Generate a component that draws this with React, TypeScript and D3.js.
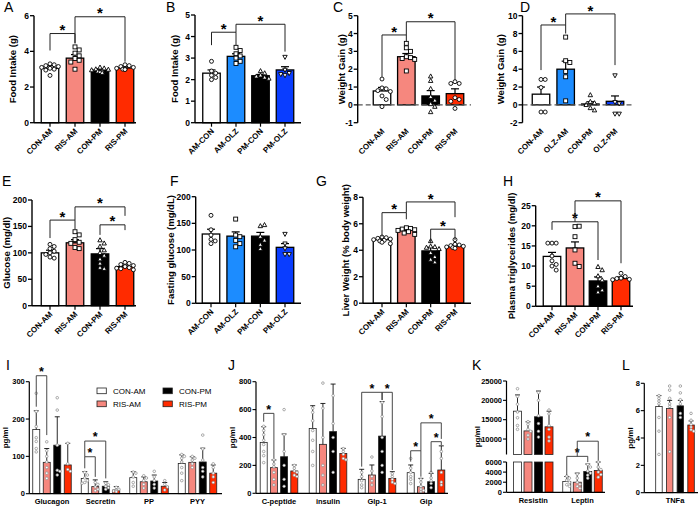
import React from "react";
import * as d3 from "d3";

const FONT = "'Liberation Sans', Arial, Helvetica, sans-serif";

// ---------------- colours ----------------
const WHITE = "#ffffff";
const SALMON = "#F6877E";
const BLACK = "#000000";
const RED = "#FF2B00";
const LBLUE = "#1C8CFF";
const DBLUE = "#0A3DFF";

// ---------------- categories ----------------
const catsRIS = ["CON-AM", "RIS-AM", "CON-PM", "RIS-PM"];
const catsB = ["AM-CON", "AM-OLZ", "PM-CON", "PM-OLZ"];
const catsD = ["CON-AM", "OLZ-AM", "CON-PM", "OLZ-PM"];

// ---------------- A: Food intake (RIS) ----------------
const aTicks = [0, 2, 4, 6];
const aMeans = [3.05, 3.62, 2.95, 3.07];
const aErrs = [3.2, 3.82, 3.02, 3.13];
const aPts = [
  [3.3, 3.25, 3.2, 3.15, 3.1, 3.05, 3.0, 2.95, 2.65],
  [4.25, 4.08, 3.9, 3.75, 3.6, 3.5, 3.4, 3.0],
  [3.1, 3.05, 3.0, 2.98, 2.95, 2.9, 2.88, 2.85, 2.8],
  [3.25, 3.2, 3.15, 3.1, 3.05, 3.0, 3.0, 2.98],
];
const aBrackets = [
  [0, 1, 5.0, 4.05, 4.45],
  [1, 3, 5.94, 4.45, 3.42],
];

// ---------------- B: Food intake (OLZ) ----------------
const bTicks = [0, 1, 2, 3, 4, 5];
const bMeans = [2.3, 3.08, 2.18, 2.45];
const bErrs = [2.45, 3.2, 2.24, 2.6];
const bPts = [
  [2.85, 2.4, 2.3, 2.2, 2.1, 2.0],
  [3.5, 3.35, 3.2, 3.1, 3.0, 2.85, 2.75],
  [2.4, 2.3, 2.2, 2.15, 2.1, 2.05],
  [3.05, 2.45, 2.3, 2.2, 2.25],
];
const bBrackets = [
  [0, 1, 4.2, 3.6, 3.6],
  [1, 3, 4.57, 4.2, 3.3],
];

// ---------------- C: Weight gain (RIS) ----------------
const cTicks = [-1, 0, 1, 2, 3, 4, 5];
const cMeans = [0.78, 2.7, 0.5, 0.63];
const cErrs = [0.98, 2.88, 0.8, 0.9];
const cPts = [
  [1.45, 0.95, 0.9, 0.8, 0.75, 0.5, 0.3, -0.1],
  [3.45, 3.2, 3.0, 2.7, 2.65, 2.6, 2.55, 1.9],
  [1.6, 1.35, 0.9, 0.45, 0.25, 0.05, -0.1, -0.4],
  [1.3, 1.2, 1.2, 0.4, 0.3, 0.2, -0.2],
];
const cBrackets = [
  [0, 1, 3.92, 1.57, 3.54],
  [1, 3, 4.66, 3.92, 1.39],
];

// ---------------- D: Weight gain (OLZ) ----------------
const dTicks = [-2, 0, 2, 4, 6, 8, 10];
const dMeans = [1.2, 4.0, 0.1, 0.4];
const dErrs = [2.0, 4.9, 0.35, 1.0];
const dPts = [
  [2.85, 2.85, 1.95, -0.8, -0.8],
  [7.6, 4.95, 4.75, 3.75, 3.15, 0.45],
  [1.1, 0.35, 0.2, 0.0, -0.35, -0.6],
  [3.3, 0.3, 0.15, -1.0, -1.0],
];
const dBrackets = [
  [0, 1, 8.96, 3.9, 8.0],
  [1, 3, 10.2, 8.96, 4.46],
];

// ---------------- E: Glucose ----------------
const eTicks = [0, 50, 100, 150, 200];
const eMeans = [100, 119, 98, 74];
const eErrs = [105, 125, 108, 77];
const ePts = [
  [116, 112, 108, 103, 100, 97, 92, 90],
  [140, 134, 125, 120, 118, 110, 108],
  [124, 118, 112, 105, 100, 95, 88, 80, 72, 70],
  [82, 80, 78, 76, 74, 72, 71, 70, 68],
];
const eBrackets = [
  [0, 1, 162, 128, 145],
  [1, 3, 187, 162, 170],
  [2, 3, 153, 134, 143],
];

// ---------------- F: Fasting glucose ----------------
const fTicks = [0, 50, 100, 150, 200];
const fMeans = [130, 126, 126, 105];
const fErrs = [139, 134, 133, 112];
const fPts = [
  [165, 138, 128, 120, 117, 112],
  [158, 128, 125, 118, 112, 106],
  [145, 147, 125, 118, 110, 102],
  [130, 112, 103, 92, 92],
];

// ---------------- G: Liver weight ----------------
const gTicks = [0, 2, 4, 6, 8];
const gMeans = [4.8, 5.5, 3.95, 4.3];
const gErrs = [4.93, 5.62, 4.22, 4.42];
const gPts = [
  [5.0, 4.95, 4.9, 4.85, 4.8, 4.75, 4.7, 4.6, 4.5],
  [5.7, 5.65, 5.6, 5.55, 5.5, 5.4, 5.3, 5.2],
  [4.7, 4.3, 4.25, 4.2, 4.1, 3.8, 3.5, 3.3, 3.1],
  [4.8, 4.45, 4.4, 4.35, 4.3, 4.25, 4.2, 4.15],
];
const gBrackets = [
  [0, 1, 6.84, 5.03, 6.34],
  [1, 3, 7.65, 6.84, 6.5],
  [2, 3, 5.59, 4.53, 4.78],
];

// ---------------- H: Plasma triglycerides ----------------
const hTicks = [0, 5, 10, 15, 20, 25];
const hMeans = [12.4, 14.5, 6.3, 6.9];
const hErrs = [13.4, 16.0, 7.3, 7.3];
const hPts = [
  [15.7, 15.7, 15.7, 12.5, 11.3, 10.4, 10.0, 9.0],
  [19.8, 19.9, 17.3, 14.0, 10.7, 9.9],
  [9.8, 9.0, 7.5, 6.5, 5.0, 4.0, 3.5],
  [8.2, 7.4, 7.0, 6.9, 6.7, 6.6],
];
const hBrackets = [
  [0, 2, 21.0, 19.0, 11.5],
  [1, 3, 26.2, 21.0, 10.7],
];

// ---------------- Row 3 ----------------
const seriesNames = ["CON-AM", "RIS-AM", "CON-PM", "RIS-PM"];

const iGroups = ["Glucagon", "Secretin", "PP", "PYY"];
const iTicks = [0, 100, 200, 300];
const iMeans = [
  [172, 41, 43, 81],
  [84, 19, 32, 84],
  [130, 20, 34, 85],
  [77, 10, 20, 55],
];
const iErrs = [
  [222, 59, 59, 104],
  [121, 37, 45, 99],
  [206, 32, 50, 122],
  [135, 19, 30, 77],
];
const iPts = [
  [[269, 220, 180, 150, 140, 121, 112], [57, 50, 42, 35, 30, 28], [58, 55, 45, 30, 20], [105, 100, 95, 85, 70, 55, 35]],
  [[139, 115, 100, 85, 70, 55, 41], [30, 25, 18, 12, 8], [48, 42, 35, 25, 15], [100, 95, 90, 80, 70]],
  [[257, 224, 130, 63, 60, 50], [28, 24, 20, 16, 12], [60, 45, 35, 25, 15], [157, 120, 90, 70, 60, 45]],
  [[135, 80, 65, 60], [17, 12, 9, 7, 5], [35, 25, 18, 10], [80, 70, 55, 45, 30]],
];
const iBrackets = [
  [0, 0, 1, 316, 233, 157],
  [1, 0, 1, 99, 68, 45],
  [1, 0, 2, 141, 99, 41],
];

const jGroups = ["C-peptide", "insulin", "Glp-1", "Gip"];
const jTicks = [0, 200, 400, 600, 800];
const jMeans = [
  [365, 465, 100, 148],
  [184, 351, 131, 47],
  [262, 442, 410, 83],
  [160, 286, 107, 167],
];
const jErrs = [
  [477, 628, 172, 203],
  [239, 644, 203, 107],
  [425, 783, 657, 143],
  [203, 322, 155, 340],
];
const jPts = [
  [[480, 450, 420, 380, 350, 300, 270, 220], [610, 580, 520, 450, 380, 300, 200], [150, 120, 90, 60, 40], [250, 180, 150, 120, 100, 70]],
  [[240, 210, 190, 150, 100, 60], [790, 610, 400, 200, 130, 60], [260, 160, 120, 90, 60], [100, 80, 50, 30, 20, 10]],
  [[600, 420, 300, 200, 100, 50], [700, 500, 400, 300, 150], [650, 550, 400, 300, 200, 150], [150, 110, 90, 70, 40]],
  [[200, 180, 160, 150, 130, 120], [320, 300, 280, 250, 240], [140, 120, 100, 80, 70], [300, 250, 150, 80, 60]],
];
const jBrackets = [
  [0, 0, 1, 573, 513, 251],
  [2, 0, 2, 724, 191, 669],
  [2, 2, 3, 724, 669, 167],
  [3, 0, 1, 305, 227, 119],
  [3, 1, 3, 505, 305, 390],
  [3, 2, 3, 370, 150, 345],
];

const kGroups = ["Resistin", "Leptin"];
const kTicksLow = [0, 2000, 4000, 6000];
const kTicksHigh = [10000, 15000, 20000, 25000];
const kMeans = [
  [17200, 2120],
  [12100, 2000],
  [15750, 4120],
  [13160, 4320],
];
const kErrs = [
  [21400, 3120],
  [14450, 3800],
  [22400, 5600],
  [17200, 6000],
];
const kPts = [
  [[23000, 21000, 19000, 17000, 15500, 13500, 12500], [3200, 2800, 2400, 2000, 1500, 1200]],
  [[14500, 13800, 12500, 12000, 11000, 10000], [3600, 2800, 2000, 1600, 1200, 800]],
  [[22000, 20000, 16000, 14000, 12000, 10500], [5500, 5000, 4200, 3800, 3400, 2800]],
  [[17500, 16500, 13500, 12500, 10500, 9500], [6000, 5000, 4500, 4000, 3500, 3000]],
];
const kBrackets = [
  [1, 0, 2, 7120, 3400, 6000],
  [1, 1, 3, 10120, 7120, 6300],
];

const lGroups = ["TNFa"];
const lTicks = [0, 2, 4, 6, 8];
const lMeans = [[6.3], [6.15], [6.35], [4.95]];
const lErrs = [[7.1], [6.75], [6.75], [5.25]];
const lPts = [
  [[7.1, 6.9, 6.7, 6.5, 5.5, 4.5, 2.8]],
  [[7.8, 7.5, 6.9, 6.5, 6.3, 5.5, 3.0]],
  [[7.8, 7.3, 6.8, 6.5, 5.8, 5.5]],
  [[5.8, 5.3, 5.0, 4.8, 4.6, 4.5]],
];

// ---------------- helpers ----------------
type Shape = "circle" | "square" | "tri" | "triDown";

function swarm(ys: number[], size: number, maxHalf: number): number[] {
  const placed: [number, number][] = [];
  return ys.map((y, idx) => {
    let best = ((idx % 3) - 1) * size * 0.5;
    for (let k = 0; k < 40; k++) {
      const off = k === 0 ? 0 : (k % 2 ? 1 : -1) * Math.ceil(k / 2) * size * 0.95;
      if (Math.abs(off) > maxHalf) break;
      if (placed.every(([px, py]) => Math.hypot(px - off, py - y) >= size * 0.95)) {
        best = off;
        break;
      }
    }
    placed.push([best, y]);
    return best;
  });
}

function Marker(props: { shape: Shape; x: number; y: number; s: number; fill: string; stroke: string; sw: number }) {
  const { shape, x, y, s, fill, stroke, sw } = props;
  const h = s / 2;
  if (shape === "square")
    return <rect x={x - h * 0.9} y={y - h * 0.9} width={s * 0.9} height={s * 0.9} fill={fill} stroke={stroke} strokeWidth={sw} />;
  if (shape === "tri")
    return <path d={`M${x},${y - h * 1.1}L${x + h},${y + h * 0.75}L${x - h},${y + h * 0.75}Z`} fill={fill} stroke={stroke} strokeWidth={sw} />;
  if (shape === "triDown")
    return <path d={`M${x},${y + h * 1.1}L${x + h},${y - h * 0.75}L${x - h},${y - h * 0.75}Z`} fill={fill} stroke={stroke} strokeWidth={sw} />;
  return <circle cx={x} cy={y} r={h * 0.9} fill={fill} stroke={stroke} strokeWidth={sw} />;
}

interface SmallCfg {
  cats: string[];
  means: number[];
  errs: number[];
  pts: number[][];
  colors: string[];
  shapes: Shape[];
  domain: [number, number];
  ticks: number[];
  brackets: number[][];
  axisX: number;
  xEnd: number;
  c0: number;
  c1: number;
  yTop: number;
  yBot: number;
  title: string;
  titleX: number;
  letter: string;
  letterX: number;
  letterY: number;
  zero?: boolean;
}

function SmallPanel({ cfg }: { cfg: SmallCfg }) {
  const y = d3.scaleLinear().domain(cfg.domain).range([cfg.yBot, cfg.yTop]);
  const x = d3.scalePoint<string>().domain(cfg.cats).range([cfg.c0, cfg.c1]);
  const barW = 17.5;
  const base = y(Math.max(0, cfg.domain[0]));
  const midY = (cfg.yBot + cfg.yTop) / 2;
  return (
    <g>
      <text x={cfg.letterX} y={cfg.letterY} fontSize={14}>{cfg.letter}</text>
      <text transform={`translate(${cfg.titleX + 2},${midY}) rotate(-90)`} textAnchor="middle" fontSize={9.5} fontWeight="bold">
        {cfg.title}
      </text>
      {cfg.cats.map((c, i) => {
        const cx = x(c)!;
        const ym = y(cfg.means[i]);
        return (
          <rect key={"b" + i} x={cx - barW / 2} y={Math.min(ym, base)} width={barW} height={Math.abs(base - ym)}
            fill={cfg.colors[i]} stroke="#000" strokeWidth={1.3} />
        );
      })}
      {cfg.zero && (
        <line x1={cfg.axisX} x2={cfg.xEnd} y1={y(0)} y2={y(0)} stroke="#555" strokeWidth={1.3} strokeDasharray="5,3" />
      )}
      {cfg.cats.map((c, i) => {
        const cx = x(c)!;
        return (
          <g key={"e" + i}>
            <line x1={cx} x2={cx} y1={y(cfg.means[i])} y2={y(cfg.errs[i])} stroke="#000" strokeWidth={1.2} />
            <line x1={cx - 4} x2={cx + 4} y1={y(cfg.errs[i])} y2={y(cfg.errs[i])} stroke="#000" strokeWidth={1.2} />
          </g>
        );
      })}
      {cfg.cats.map((c, i) => {
        const cx = x(c)!;
        const ys = cfg.pts[i].map((v) => y(v));
        const offs = swarm(ys, 4.4, 9);
        return (
          <g key={"p" + i}>
            {ys.map((py, k) => (
              <Marker key={k} shape={cfg.shapes[i]} x={cx + offs[k]} y={py} s={4.4} fill="#fff" stroke="#000" sw={0.9} />
            ))}
          </g>
        );
      })}
      <line x1={cfg.axisX} x2={cfg.axisX} y1={cfg.yBot} y2={cfg.yTop} stroke="#000" strokeWidth={1.4} />
      {cfg.ticks.map((t) => (
        <g key={"t" + t}>
          <line x1={cfg.axisX - 4} x2={cfg.axisX} y1={y(t)} y2={y(t)} stroke="#000" strokeWidth={1.3} />
          <text x={cfg.axisX - 5} y={y(t) + 3} textAnchor="end" fontSize={8.5} fontWeight="bold">{t}</text>
        </g>
      ))}
      {!cfg.zero && <line x1={cfg.axisX} x2={cfg.xEnd} y1={cfg.yBot} y2={cfg.yBot} stroke="#000" strokeWidth={1.4} />}
      {cfg.cats.map((c) => (
        <g key={"x" + c}>
          {!cfg.zero && <line x1={x(c)!} x2={x(c)!} y1={cfg.yBot} y2={cfg.yBot + 4} stroke="#000" strokeWidth={1.2} />}
          <text transform={`translate(${x(c)! + 3},${cfg.yBot + 9}) rotate(-45)`} textAnchor="end" fontSize={8} fontWeight="bold">
            {c}
          </text>
        </g>
      ))}
      {cfg.brackets.map(([a, b, top, l, r], k) => {
        const xa = x(cfg.cats[a])!;
        const xb = x(cfg.cats[b])!;
        return (
          <g key={"br" + k}>
            <path d={`M${xa},${y(l)}V${y(top)}H${xb}V${y(r)}`} fill="none" stroke="#222" strokeWidth={1} />
            <text x={(xa + xb) / 2} y={y(top) - 7 + 8.6} textAnchor="middle" fontSize={15} fontWeight="bold">*</text>
          </g>
        );
      })}
    </g>
  );
}

interface Seg {
  domain: [number, number];
  range: [number, number];
  ticks: number[];
}
interface GroupCfg {
  groups: string[];
  means: number[][];
  errs: number[][];
  pts: number[][][];
  brackets: number[][];
  segs: Seg[];
  axisX: number;
  xEnd: number;
  g0: number;
  g1: number;
  off: number;
  barW: number;
  titleX: number;
  letter: string;
  letterX: number;
  letterY: number;
}
const rowColors = [WHITE, SALMON, BLACK, RED];

function GroupPanel({ cfg }: { cfg: GroupCfg }) {
  const segs = cfg.segs.map((s) => ({ ...s, sc: d3.scaleLinear().domain(s.domain).range(s.range) }));
  const yv = (v: number) => {
    for (let i = segs.length - 1; i > 0; i--) if (v > segs[i].domain[0]) return segs[i].sc(v);
    return segs[0].sc(v);
  };
  const gx = d3.scalePoint<string>().domain(cfg.groups).range([cfg.g0, cfg.g1]);
  const sx = d3.scalePoint<string>().domain(seriesNames).range([-1.5 * cfg.off, 1.5 * cfg.off]);
  const bottom = segs[0].range[0];
  const top = segs[segs.length - 1].range[1];
  return (
    <g>
      <text x={cfg.letterX} y={cfg.letterY} fontSize={14}>{cfg.letter}</text>
      <text transform={`translate(${cfg.titleX + 2.5},${(bottom + top) / 2}) rotate(-90)`} textAnchor="middle" fontSize={8} fontWeight="bold">
        pg/ml
      </text>
      {seriesNames.map((sName, s) =>
        cfg.groups.map((g, gi) => {
          const cx = gx(g)! + sx(sName)!;
          const m = cfg.means[s][gi];
          return (
            <g key={sName + g}>
              {segs.map((sg, k) =>
                m > sg.domain[0] ? (
                  <rect key={k} x={cx - cfg.barW / 2} y={sg.sc(Math.min(m, sg.domain[1]))} width={cfg.barW}
                    height={sg.range[0] - sg.sc(Math.min(m, sg.domain[1]))} fill={rowColors[s]} stroke="#222" strokeWidth={0.8} />
                ) : null
              )}
              <line x1={cx} x2={cx} y1={yv(m)} y2={yv(cfg.errs[s][gi])} stroke="#111" strokeWidth={0.9} />
              <line x1={cx - 2.5} x2={cx + 2.5} y1={yv(cfg.errs[s][gi])} y2={yv(cfg.errs[s][gi])} stroke="#111" strokeWidth={0.9} />
            </g>
          );
        })
      )}
      {seriesNames.map((sName, s) =>
        cfg.groups.map((g, gi) => {
          const cx = gx(g)! + sx(sName)!;
          const ys = cfg.pts[s][gi].map(yv);
          const offs = swarm(ys, 2.8, 3.2);
          return (
            <g key={"p" + sName + g}>
              {ys.map((py, k) => (
                <circle key={k} cx={cx + offs[k]} cy={py} r={1.3} fill="#fff" stroke="#888" strokeWidth={0.7} />
              ))}
            </g>
          );
        })
      )}
      {segs.map((sg, k) => (
        <g key={"ax" + k}>
          <line x1={cfg.axisX} x2={cfg.axisX} y1={sg.range[0]} y2={sg.range[1]} stroke="#000" strokeWidth={1.2} />
          {sg.ticks.map((t) => (
            <g key={t}>
              <line x1={cfg.axisX - 3.5} x2={cfg.axisX} y1={sg.sc(t)} y2={sg.sc(t)} stroke="#000" strokeWidth={1.1} />
              <text x={cfg.axisX - 4.5} y={sg.sc(t) + 2.6} textAnchor="end" fontSize={7.5} fontWeight="bold">{t}</text>
            </g>
          ))}
        </g>
      ))}
      <line x1={cfg.axisX} x2={cfg.xEnd} y1={bottom} y2={bottom} stroke="#000" strokeWidth={1.2} />
      {cfg.groups.map((g) => (
        <text key={"gl" + g} x={gx(g)!} y={bottom + 10.5} textAnchor="middle" fontSize={7.5} fontWeight="bold">{g}</text>
      ))}
      {cfg.brackets.map(([gi, a, b, t, l, r], k) => {
        const xa = gx(cfg.groups[gi])! + sx(seriesNames[a])!;
        const xb = gx(cfg.groups[gi])! + sx(seriesNames[b])!;
        const sc = segs[0].sc;
        return (
          <g key={"br" + k}>
            <path d={`M${xa},${sc(l)}V${sc(t)}H${xb}V${sc(r)}`} fill="none" stroke="#333" strokeWidth={0.9} />
            <text x={(xa + xb) / 2} y={sc(t) - 7 + 7.2} textAnchor="middle" fontSize={12.5} fontWeight="bold">*</text>
          </g>
        );
      })}
    </g>
  );
}

const shapesRIS: Shape[] = ["circle", "square", "tri", "circle"];
const shapesOLZ: Shape[] = ["circle", "square", "tri", "triDown"];
const colRIS = [WHITE, SALMON, BLACK, RED];
const colOLZ = [WHITE, LBLUE, BLACK, DBLUE];

const panelA: SmallCfg = {
  cats: catsRIS, means: aMeans, errs: aErrs, pts: aPts, colors: colRIS, shapes: shapesRIS,
  domain: [0, 6], ticks: aTicks, brackets: aBrackets, axisX: 34, xEnd: 136, c0: 50, c1: 125,
  yTop: 15.7, yBot: 122.7, title: "Food Intake (g)", titleX: 14, letter: "A", letterX: 4, letterY: 12,
};
const panelB: SmallCfg = {
  cats: catsB, means: bMeans, errs: bErrs, pts: bPts, colors: colOLZ, shapes: shapesOLZ,
  domain: [0, 5], ticks: bTicks, brackets: bBrackets, axisX: 195, xEnd: 301, c0: 211.5, c1: 285,
  yTop: 15, yBot: 122.7, title: "Food Intake (g)", titleX: 176, letter: "B", letterX: 166, letterY: 12,
};
const panelC: SmallCfg = {
  cats: catsRIS, means: cMeans, errs: cErrs, pts: cPts, colors: colRIS, shapes: shapesRIS,
  domain: [-1, 5], ticks: cTicks, brackets: cBrackets, axisX: 357.7, xEnd: 471, c0: 382, c1: 455,
  yTop: 15.7, yBot: 122.7, title: "Weight Gain (g)", titleX: 343, letter: "C", letterX: 333, letterY: 12, zero: true,
};
const panelD: SmallCfg = {
  cats: catsD, means: dMeans, errs: dErrs, pts: dPts, colors: colOLZ, shapes: shapesOLZ,
  domain: [-2, 10], ticks: dTicks, brackets: dBrackets, axisX: 522.5, xEnd: 632, c0: 541, c1: 615,
  yTop: 15.7, yBot: 122.7, title: "Weight Gain (g)", titleX: 502, letter: "D", letterX: 520, letterY: 12, zero: true,
};
const panelE: SmallCfg = {
  cats: catsRIS, means: eMeans, errs: eErrs, pts: ePts, colors: colRIS, shapes: shapesRIS,
  domain: [0, 200], ticks: eTicks, brackets: eBrackets, axisX: 32, xEnd: 136, c0: 50, c1: 125,
  yTop: 200, yBot: 305.7, title: "Glucose (mg/dl)", titleX: 8, letter: "E", letterX: 2, letterY: 186,
};
const panelF: SmallCfg = {
  cats: catsB, means: fMeans, errs: fErrs, pts: fPts, colors: colOLZ, shapes: shapesOLZ,
  domain: [0, 200], ticks: fTicks, brackets: [], axisX: 195.7, xEnd: 301, c0: 211, c1: 285,
  yTop: 196.7, yBot: 303.3, title: "Fasting glucose (mg/dL)", titleX: 171.5, letter: "F", letterX: 170, letterY: 186,
};
const panelG: SmallCfg = {
  cats: catsRIS, means: gMeans, errs: gErrs, pts: gPts, colors: colRIS, shapes: shapesRIS,
  domain: [0, 8], ticks: gTicks, brackets: gBrackets, axisX: 363, xEnd: 471, c0: 382, c1: 455,
  yTop: 197.3, yBot: 303.2, title: "Liver Weight (% body weight)", titleX: 346.5, letter: "G", letterX: 316, letterY: 186,
};
const panelH: SmallCfg = {
  cats: catsRIS, means: hMeans, errs: hErrs, pts: hPts, colors: colRIS, shapes: shapesRIS,
  domain: [0, 25], ticks: hTicks, brackets: hBrackets, axisX: 535.7, xEnd: 633, c0: 552, c1: 621,
  yTop: 205.7, yBot: 306.3, title: "Plasma triglycerides (mg/dl)", titleX: 513, letter: "H", letterX: 503, letterY: 186,
};

const panelI: GroupCfg = {
  groups: iGroups, means: iMeans, errs: iErrs, pts: iPts, brackets: iBrackets,
  segs: [{ domain: [0, 300], range: [493.7, 381.7], ticks: iTicks }],
  axisX: 29.3, xEnd: 222, g0: 52, g1: 197.5, off: 10.5, barW: 7, titleX: 5, letter: "I", letterX: 6, letterY: 370,
};
const panelJ: GroupCfg = {
  groups: jGroups, means: jMeans, errs: jErrs, pts: jPts, brackets: jBrackets,
  segs: [{ domain: [0, 800], range: [493.3, 381.7], ticks: jTicks }],
  axisX: 256, xEnd: 448, g0: 279, g1: 426, off: 10.2, barW: 7, titleX: 232, letter: "J", letterX: 228, letterY: 370,
};
const panelK: GroupCfg = {
  groups: kGroups, means: kMeans, errs: kErrs, pts: kPts, brackets: kBrackets,
  segs: [
    { domain: [0, 6000], range: [492.3, 462], ticks: kTicksLow },
    { domain: [6000, 25000], range: [454.5, 381], ticks: kTicksHigh },
  ],
  axisX: 506.5, xEnd: 605, g0: 533.25, g1: 582.5, off: 10.5, barW: 8, titleX: 477, letter: "K", letterX: 472, letterY: 370,
};
const panelL: GroupCfg = {
  groups: lGroups, means: lMeans, errs: lErrs, pts: lPts, brackets: [],
  segs: [{ domain: [0, 8], range: [492.7, 383.3], ticks: lTicks }],
  axisX: 644.3, xEnd: 698, g0: 675, g1: 675, off: 10.7, barW: 6.5, titleX: 630, letter: "L", letterX: 622, letterY: 370,
};

function Legend() {
  const items = [
    { name: seriesNames[0], col: WHITE, x: 97, y: 388 },
    { name: seriesNames[1], col: SALMON, x: 97, y: 401 },
    { name: seriesNames[2], col: BLACK, x: 163, y: 388 },
    { name: seriesNames[3], col: RED, x: 163, y: 401 },
  ];
  return (
    <g>
      {items.map((it) => (
        <g key={it.name}>
          <rect x={it.x} y={it.y} width={9.3} height={5.7} fill={it.col} stroke="#222" strokeWidth={0.8} />
          <text x={it.x + 16} y={it.y + 6} fontSize={8}>{it.name}</text>
        </g>
      ))}
    </g>
  );
}

export default function App() {
  return (
    <svg width={699} height={507} viewBox="0 0 699 507" style={{ position: "absolute", left: 0, top: 0, background: "#fff" }}
      fontFamily={FONT}>
      <rect width={699} height={507} fill="#fff" />
      <SmallPanel cfg={panelA} />
      <SmallPanel cfg={panelB} />
      <SmallPanel cfg={panelC} />
      <SmallPanel cfg={panelD} />
      <SmallPanel cfg={panelE} />
      <SmallPanel cfg={panelF} />
      <SmallPanel cfg={panelG} />
      <SmallPanel cfg={panelH} />
      <GroupPanel cfg={panelI} />
      <GroupPanel cfg={panelJ} />
      <GroupPanel cfg={panelK} />
      <GroupPanel cfg={panelL} />
      <Legend />
    </svg>
  );
}
